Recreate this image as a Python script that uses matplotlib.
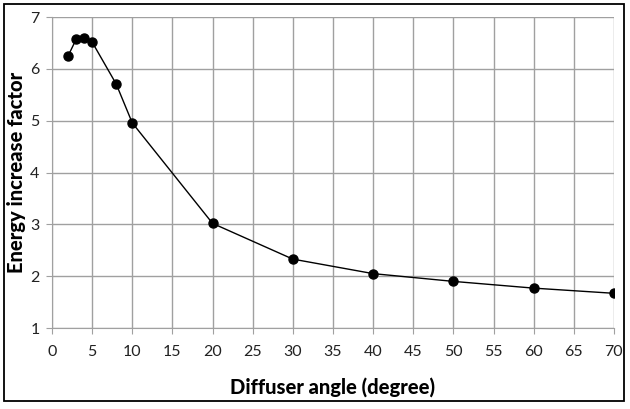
import matplotlib.pyplot as plt
from matplotlib.patches import Rectangle

angle = [2, 3, 4, 5, 8, 10, 20, 30, 40, 50, 60, 70]
factor = [6.25, 6.57, 6.59, 6.52, 5.71, 4.96, 3.02, 2.33, 2.05, 1.90, 1.77, 1.67]
x_ticks = list(range(0, 75, 5))
y_ticks = [1, 2, 3, 4, 5, 6, 7]

plt.rcParams['font.family'] = ['Lato', 'DejaVu Sans']

fig = plt.figure(figsize=(6.3, 4.09), dpi=100)
ax = fig.add_axes([0.0825, 0.198, 0.892, 0.760])

ax.plot(angle, factor, color='black', lw=1.0, marker='o', ms=6.5, zorder=3)

ax.set_xlim(0, 70)
ax.set_ylim(1, 7)
ax.set_xticks(x_ticks)
ax.set_yticks(y_ticks)
ax.grid(True, color='#a0a0a0', lw=1.0)
ax.set_axisbelow(True)
for side in ['top', 'right']:
    ax.spines[side].set_visible(False)
for side in ['left', 'bottom']:
    ax.spines[side].set_color('#a0a0a0')
ax.tick_params(colors='#a0a0a0', length=4, labelcolor='#222222', labelsize=11.5)
ax.tick_params(axis='x', pad=8)
ax.tick_params(axis='y', pad=5)

ax.set_xlabel('Diffuser angle (degree)', fontsize=14.5, fontweight='black')
ax.set_ylabel('Energy increase factor', fontsize=14.5, fontweight='black')
# label anchors, in axes fractions (axes is 562 x 311 px)
ax.xaxis.set_label_coords(0.5, -(377 - 328) / 311)
ax.yaxis.set_label_coords(-(52 - 26) / 562, 0.5)

fig.patches.append(Rectangle((4 / 630, 8 / 409), 620 / 630, 397 / 409,
                             transform=fig.transFigure, fill=False,
                             edgecolor='black', lw=1.3))

fig.savefig('out.png', dpi=100)
